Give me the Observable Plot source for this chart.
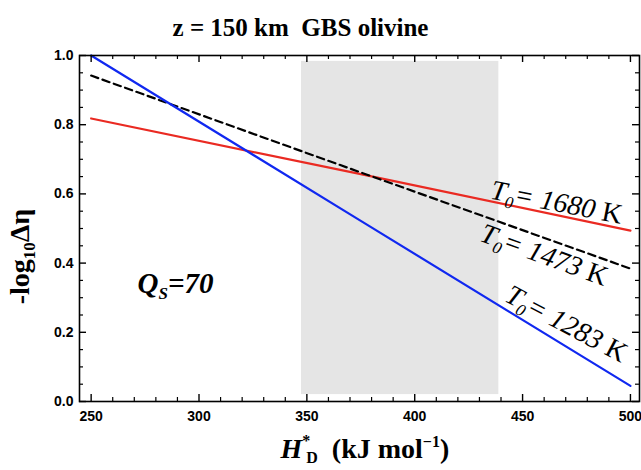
<!DOCTYPE html>
<html><head><meta charset="utf-8">
<script src="https://cdn.jsdelivr.net/npm/d3@7"></script>
<script src="https://cdn.jsdelivr.net/npm/@observablehq/plot@0.6"></script>
<style>body{margin:0;background:#fff}svg text{white-space:pre}</style>
</head><body><div id="chart"></div>
<script>
// ---- data ----
const hValues = [250, 375, 500];                 // H*_D (kJ/mol)
const eta1680 = [0.818, 0.657, 0.494];           // T0 = 1680 K (red)
const eta1473 = [0.942, 0.662, 0.384];           // T0 = 1473 K (black dashed)
const eta1283 = [1.000, 0.522, 0.045];           // T0 = 1283 K (blue)
const seriesLabels = ["T0= 1680 K", "T0= 1473 K", "T0= 1283 K"];
const bandH = [347.5, 439];                      // shaded range of H*
const bandEta = [0.02, 0.983];
const xMajor = [250, 300, 350, 400, 450, 500];
const xMinor = [260,270,280,290,310,320,330,340,360,370,380,390,410,420,430,440,460,470,480,490];
const yMajor = [0, 0.2, 0.4, 0.6, 0.8, 1.0];
const yMinor = [0.05,0.1,0.15,0.25,0.3,0.35,0.45,0.5,0.55,0.65,0.7,0.75,0.85,0.9,0.95];
const titleText = "z = 150 km  GBS olivine";
const xLabel = "H*D (kJ mol−1)";
const yLabel = "-log10Δη";
const qsLabel = "QS=70";

// annotation placement
const labelH = [434.7, 429.6, 441.1];
const labelEta = [0.587, 0.465, 0.292];
const labelAngle = [11, 20, 28];

const W = 641, H = 470;
const mL = 79, mR = 2, mT = 55, mB = 69;
const fw = W - mL - mR, fh = H - mT - mB;

const mk = (vals) => hValues.map((h, i) => ({h, v: vals[i]}));
const serif = "Liberation Serif, Times New Roman, serif";
const sans = "Liberation Sans, Arial, sans-serif";

const plot = Plot.plot({
  width: W, height: H,
  marginLeft: mL, marginRight: mR, marginTop: mT, marginBottom: mB,
  style: {background: "white", fontFamily: sans},
  x: {domain: [244.6, 504.2], label: null},
  y: {domain: [0, 1], label: null},
  marks: [
    Plot.rect([0], {x1: bandH[0], x2: bandH[1], y1: bandEta[0], y2: bandEta[1], fill: "#e5e5e5"}),
    Plot.line(mk(eta1680), {x: "h", y: "v", stroke: "#ea2a22", strokeWidth: 2.2}),
    Plot.line(mk(eta1473), {x: "h", y: "v", stroke: "black", strokeWidth: 2.2, strokeDasharray: "7.5,4.5"}),
    Plot.line(mk(eta1283), {x: "h", y: "v", stroke: "#1028f0", strokeWidth: 2.2}),
    Plot.frame({stroke: "black", strokeWidth: 1.6}),
    // inward ticks on all four sides
    Plot.tickX(xMajor, {x: d => d, stroke: "black", strokeWidth: 1.4, insetTop: fh - 7}),
    Plot.tickX(xMajor, {x: d => d, stroke: "black", strokeWidth: 1.4, insetBottom: fh - 7}),
    Plot.tickX(xMinor, {x: d => d, stroke: "black", strokeWidth: 1.2, insetTop: fh - 4}),
    Plot.tickX(xMinor, {x: d => d, stroke: "black", strokeWidth: 1.2, insetBottom: fh - 4}),
    Plot.tickY(yMajor, {y: d => d, stroke: "black", strokeWidth: 1.4, insetRight: fw - 7}),
    Plot.tickY(yMajor, {y: d => d, stroke: "black", strokeWidth: 1.4, insetLeft: fw - 7}),
    Plot.tickY(yMinor, {y: d => d, stroke: "black", strokeWidth: 1.2, insetRight: fw - 4}),
    Plot.tickY(yMinor, {y: d => d, stroke: "black", strokeWidth: 1.2, insetLeft: fw - 4}),
    Plot.axisX({ticks: xMajor, tickSize: 0, tickPadding: 10, tickFormat: d => String(d),
      fontSize: 14, fontWeight: "bold", fontFamily: sans, label: null}),
    Plot.axisY({ticks: yMajor, tickSize: 0, tickPadding: 6, tickFormat: d3.format(".1f"),
      fontSize: 14, fontWeight: "bold", fontFamily: sans, label: null}),
    // series labels
    Plot.text(seriesLabels, {x: (d, i) => labelH[i], y: (d, i) => labelEta[i], rotate: (d, i) => labelAngle[i],
      text: d => d, textAnchor: "start", lineAnchor: "bottom", fontSize: 28, fontStyle: "italic",
      fontFamily: serif, fill: "black"}),
    Plot.text([qsLabel], {x: 271.5, y: 0.315, text: d => d, textAnchor: "start", lineAnchor: "bottom",
      fontSize: 29, fontStyle: "italic", fontWeight: "bold", fontFamily: serif}),
    // title and axis titles
    Plot.text([titleText], {frameAnchor: "top", dx: -59, dy: -20, lineAnchor: "bottom", text: d => d,
      fontSize: 25, fontWeight: "bold", fontFamily: serif}),
    Plot.text([xLabel], {frameAnchor: "bottom", textAnchor: "start", dx: 280 - (mL + fw / 2), dy: 56,
      lineAnchor: "bottom", text: d => d, fontSize: 28, fontWeight: "bold", fontFamily: serif}),
    Plot.text([yLabel], {frameAnchor: "left", rotate: -90, textAnchor: "middle", dx: -51, dy: 256 - (mT + fh / 2),
      lineAnchor: "bottom", text: d => d, fontSize: 28, fontWeight: "bold", fontFamily: serif})
  ]
});

// rich text: subscripts / superscripts
const rich = {
  "T0= 1680 K": 'T<tspan font-size="17" dy="6">0</tspan><tspan dy="-6">= 1680 </tspan><tspan font-style="normal">K</tspan>',
  "T0= 1473 K": 'T<tspan font-size="17" dy="6">0</tspan><tspan dy="-6">= 1473 </tspan><tspan font-style="normal">K</tspan>',
  "T0= 1283 K": 'T<tspan font-size="17" dy="6">0</tspan><tspan dy="-6">= 1283 </tspan><tspan font-style="normal">K</tspan>',
  "QS=70": 'Q<tspan font-size="17" dy="6">S</tspan><tspan dy="-6">=70</tspan>',
  "H*D (kJ mol−1)": '<tspan font-style="italic">H</tspan><tspan font-size="16" dy="-12">*</tspan><tspan font-size="16" dy="17" dx="-4">D</tspan><tspan dy="-5">  (kJ mol</tspan><tspan font-size="16" dy="-11">−1</tspan><tspan dy="11">)</tspan>',
  "-log10Δη": '-log<tspan font-size="17" dy="6">10</tspan><tspan dy="-6">Δη</tspan>'
};
d3.select(plot).selectAll("text").each(function () {
  const t = this.textContent;
  if (rich[t] !== undefined) this.innerHTML = rich[t];
});

document.getElementById("chart").appendChild(plot);
</script>
</body></html>
